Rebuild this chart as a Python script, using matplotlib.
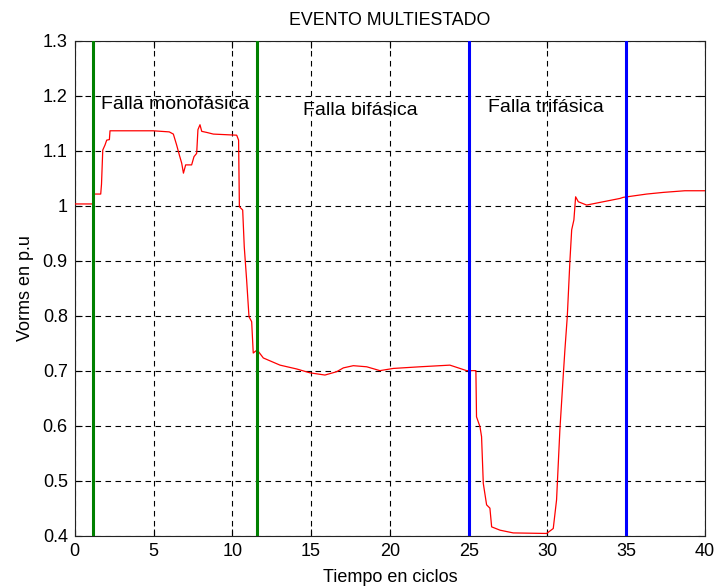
import matplotlib
matplotlib.use("Agg")
import matplotlib.pyplot as plt

plt.rcParams['font.family'] = ['Liberation Sans', 'DejaVu Sans']

# Voltage trace (cycles, p.u.)
tiempo = [0.0, 1.18, 1.20, 1.65, 1.70, 1.78, 1.92, 2.03, 2.20, 2.24, 4.97, 6.00,
          6.26, 6.47, 6.64, 6.79, 6.90, 7.04, 7.42, 7.57, 7.74, 7.82, 7.95, 8.06,
          8.38, 8.80, 10.28, 10.40, 10.45, 10.66, 10.76, 10.91, 11.06, 11.23,
          11.33, 11.50, 11.65, 11.97, 13.03, 14.09, 14.93, 15.88, 16.62, 17.05,
          17.68, 18.53, 19.37, 20.22, 21.91, 23.81, 24.45, 24.87, 25.46, 25.50,
          25.72, 25.82, 25.93, 26.14, 26.35, 26.46, 26.99, 27.83, 29.95, 30.37,
          30.58, 30.79, 31.00, 31.11, 31.26, 31.43, 31.54, 31.68, 31.79, 31.96,
          32.49, 33.54, 34.60, 34.81, 36.30, 37.35, 38.72, 40.0]
vrms = [1.003, 1.003, 1.021, 1.021, 1.039, 1.101, 1.110, 1.119, 1.120, 1.136,
        1.136, 1.134, 1.130, 1.110, 1.092, 1.077, 1.059, 1.074, 1.074, 1.089,
        1.095, 1.138, 1.147, 1.135, 1.133, 1.130, 1.128, 1.119, 0.998, 0.992,
        0.925, 0.865, 0.798, 0.789, 0.732, 0.736, 0.735, 0.723, 0.710, 0.703,
        0.696, 0.692, 0.698, 0.705, 0.709, 0.707, 0.700, 0.704, 0.707, 0.710,
        0.704, 0.700, 0.700, 0.616, 0.598, 0.580, 0.495, 0.456, 0.450, 0.416,
        0.410, 0.405, 0.404, 0.413, 0.465, 0.592, 0.689, 0.738, 0.798, 0.901,
        0.956, 0.974, 1.016, 1.007, 1.001, 1.007, 1.013, 1.015, 1.021, 1.024,
        1.027, 1.027]

# Fault boundaries
lineas_verdes = [1.15, 11.6]
lineas_azules = [25.0, 35.0]

etiquetas = ["Falla monofásica", "Falla bifásica", "Falla trifásica"]
etiqueta_x = [6.4, 18.1, 29.9]
etiqueta_y = [1.184, 1.172, 1.178]

xticks = [0, 5, 10, 15, 20, 25, 30, 35, 40]
yticks = [0.4, 0.5, 0.6, 0.7, 0.8, 0.9, 1.0, 1.1, 1.2, 1.3]
yticklabels = ["0.4", "0.5", "0.6", "0.7", "0.8", "0.9", "1", "1.1", "1.2", "1.3"]

fig = plt.figure(figsize=(7.15, 5.88), dpi=100)
ax = fig.add_axes([0.1045, 0.089, 0.8815, 0.842])

ax.plot(tiempo, vrms, color=(1, 0, 0), lw=0.9, zorder=3)
for xv in lineas_verdes:
    ax.axvline(xv, color=(0, 0.5, 0), lw=2.2, zorder=4)
for xv in lineas_azules:
    ax.axvline(xv, color=(0, 0, 1), lw=2.2, zorder=4)

for txt, x, y in zip(etiquetas, etiqueta_x, etiqueta_y):
    ax.text(x, y, txt, ha='center', va='center', fontsize=14, zorder=5)

ax.set_xlim(0, 40)
ax.set_ylim(0.4, 1.3)
ax.set_xticks(xticks)
ax.set_yticks(yticks)
ax.set_yticklabels(yticklabels)
ax.grid(True, color='black', linestyle=(0, (5, 4)), lw=0.8)
ax.tick_params(direction='in', top=True, right=True, labelsize=13, length=5,
               width=0.8, pad=5)
for s in ax.spines.values():
    s.set_linewidth(0.8)
    s.set_color('#222222')

ax.set_title("EVENTO MULTIESTADO", fontsize=12.8, pad=11)
ax.set_xlabel("Tiempo en ciclos", fontsize=13, labelpad=7)
ax.set_ylabel("Vorms en p.u", fontsize=13, labelpad=6)

fig.savefig("out.png", dpi=100)
